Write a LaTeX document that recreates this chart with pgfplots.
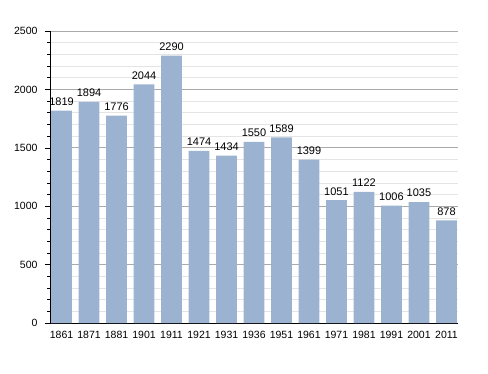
\documentclass[border=0pt]{standalone}
\usepackage{pgfplots}
\pgfplotsset{compat=1.18}
\usepackage{fontspec}
\setmainfont{Liberation Sans}
\definecolor{barblue}{RGB}{155,179,208}
\definecolor{majgrid}{RGB}{170,170,170}
\definecolor{mingrid}{RGB}{228,228,228}
\begin{document}
\begin{tikzpicture}
\path[use as bounding box] (-50pt,-50pt) rectangle (438pt,323pt);
\begin{axis}[
  at={(0,0)}, anchor=south west,
  scale only axis, width=408pt, height=292pt,
  ymin=0, ymax=2500,
  xmin=-0.42, xmax=14.42,
  axis lines*=left,
  axis line style={black, line width=0.8pt},
  ytick={0,500,1000,1500,2000,2500},
  minor y tick num=4,
  xtick=data,
  xticklabels={1861,1871,1881,1901,1911,1921,1931,1936,1951,1961,1971,1981,1991,2001,2011},
  x tick style={draw=none},
  y tick style={black, line width=0.6pt},
  tick align=outside,
  major tick length=5pt,
  minor tick length=3pt,
  ymajorgrids, yminorgrids,
  major grid style={majgrid, line width=0.7pt},
  minor grid style={mingrid, line width=0.6pt},
  tick label style={font=\fontsize{10.5}{12}\selectfont},
  /pgf/number format/assume math mode=true,
  /pgf/number format/set thousands separator={},
  yticklabel style={xshift=-4pt},
  xticklabel style={yshift=0pt},
  nodes near coords,
  every node near coord/.append style={font=\fontsize{11}{13}\selectfont, black, yshift=1.5pt},
  point meta=explicit symbolic,
]
\addplot[ybar, bar width=0.76, fill=barblue, draw=none] coordinates {
(0,1819) [1819]
(1,1894) [1894]
(2,1776) [1776]
(3,2044) [2044]
(4,2290) [2290]
(5,1474) [1474]
(6,1434) [1434]
(7,1550) [1550]
(8,1589) [1589]
(9,1399) [1399]
(10,1051) [1051]
(11,1122) [1122]
(12,1006) [1006]
(13,1035) [1035]
(14,878) [878]
};
\end{axis}
\end{tikzpicture}
\end{document}
